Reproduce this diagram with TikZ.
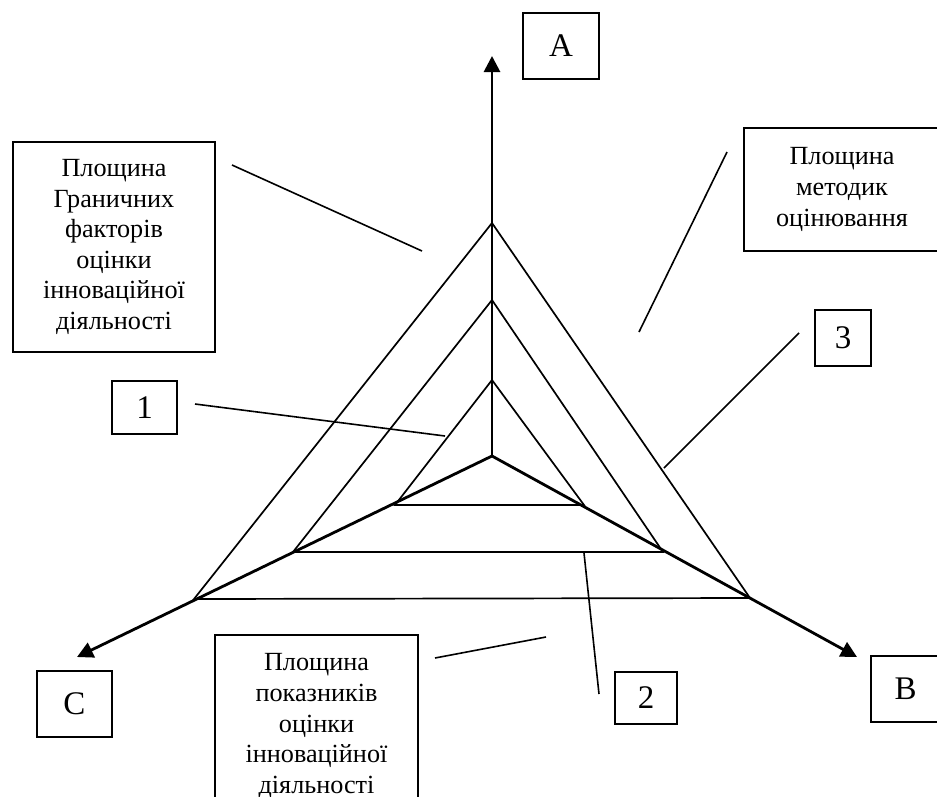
\documentclass[tikz,border=0pt]{standalone}
\usepackage{fontspec}
\setmainfont{Liberation Serif}
\usetikzlibrary{arrows.meta}
\tikzset{
  txtbox/.style={draw, line width=1.5pt, rectangle, inner sep=0pt, align=center,
    font=\fontsize{26.2}{30.6}\selectfont},
  lblbox/.style={draw, line width=1.5pt, rectangle, inner sep=0pt,
    font=\fontsize{33}{36}\selectfont},
  axis/.style={line width=2.8pt, -{Triangle[length=16pt,width=16pt]}},
  tri/.style={line width=1.7pt, line join=miter},
  leader/.style={line width=1.6pt}
}
\begin{document}
\begin{tikzpicture}[x=1pt,y=-1pt]
\useasboundingbox (0,0) rectangle (937,796);
\clip (0,0) rectangle (937,796);
% axes
\coordinate (O) at (492,456);
\coordinate (Atip) at (492,56);
\coordinate (Btip) at (857,657);
\coordinate (Ctip) at (77,657);
% triangles
\coordinate (T1) at (492,223); \coordinate (L1) at (194,599); \coordinate (R1) at (750,598);
\coordinate (T2) at (492,300); \coordinate (L2) at (293,552); \coordinate (R2) at (663,552);
\coordinate (T3) at (492,380); \coordinate (L3) at (395,505); \coordinate (R3) at (584,505);
\draw[tri] (T1) -- (L1) -- (R1) -- cycle;
\draw[tri] (T2) -- (L2) -- (R2) -- cycle;
\draw[tri] (T3) -- (L3) -- (R3) -- cycle;
\draw[axis] (O) -- (Atip);
\draw[axis] (O) -- (Btip);
\draw[axis] (O) -- (Ctip);
% label boxes
\node[lblbox, minimum width=76pt, minimum height=66pt] (A) at (561,46) {A};
\node[lblbox, minimum width=69pt, minimum height=66pt] (B) at (905.5,689) {B};
\node[lblbox, minimum width=75pt, minimum height=66pt] (C) at (74.5,704) {C};
\node[lblbox, minimum width=65pt, minimum height=53pt] (n1) at (144.5,407.5) {1};
\node[lblbox, minimum width=62pt, minimum height=52pt] (n2) at (646,698) {2};
\node[lblbox, minimum width=56pt, minimum height=56pt] (n3) at (843,338) {3};
% text boxes
\node[txtbox, minimum width=202pt, minimum height=210pt] (left) at (114,247)
  {Площина\\Граничних\\факторів\\оцінки\\інноваційної\\діяльності};
\node[txtbox, minimum width=196pt, minimum height=123pt] (right) at (842,189.5)
  {Площина\\методик\\оцінювання};
\node[txtbox, minimum width=203pt, minimum height=182pt] (bottom) at (316.5,726)
  {Площина\\показників\\оцінки\\інноваційної\\діяльності};
% leader lines
\coordinate (l1a) at (232,165); \coordinate (l1b) at (422,251);
\coordinate (r1a) at (727,152); \coordinate (r1b) at (639,332);
\coordinate (p1a) at (195,404); \coordinate (p1b) at (445,436);
\coordinate (p3a) at (799,333); \coordinate (p3b) at (664,468);
\coordinate (p2a) at (584,553); \coordinate (p2b) at (599,694);
\coordinate (b1a) at (435,658); \coordinate (b1b) at (546,637);
\draw[leader] (l1a) -- (l1b);
\draw[leader] (r1a) -- (r1b);
\draw[leader] (p1a) -- (p1b);
\draw[leader] (p3a) -- (p3b);
\draw[leader] (p2a) -- (p2b);
\draw[leader] (b1a) -- (b1b);
\end{tikzpicture}
\end{document}
